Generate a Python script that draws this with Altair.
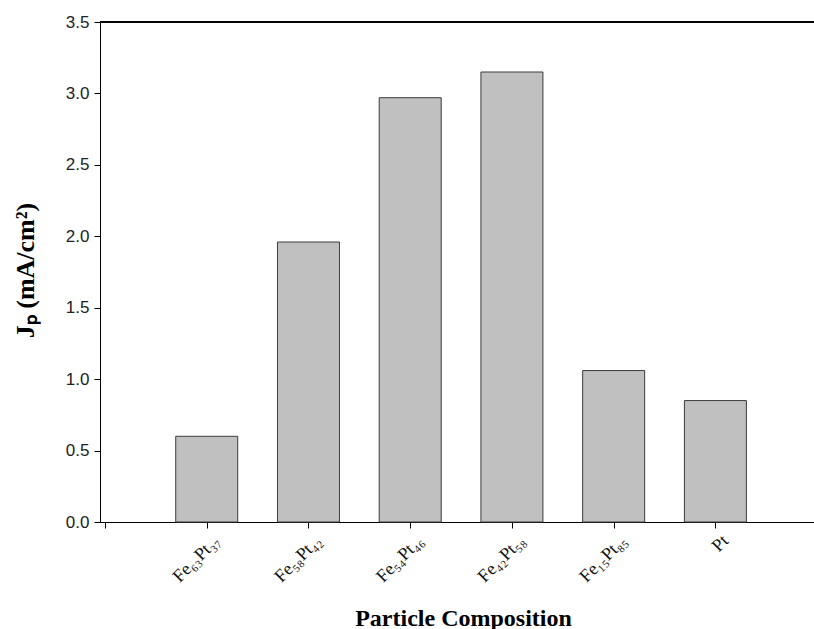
import altair as alt
import pandas as pd

# Data
categories = ["Fe₆₃Pt₃₇", "Fe₅₈Pt₄₂", "Fe₅₄Pt₄₆", "Fe₄₂Pt₅₈", "Fe₁₅Pt₈₅", "Pt"]
jp_values = [0.60, 1.96, 2.97, 3.15, 1.06, 0.85]
y_ticks = [0.0, 0.5, 1.0, 1.5, 2.0, 2.5, 3.0, 3.5]

df = pd.DataFrame({
    "composition": categories,
    "pos": list(range(1, len(categories) + 1)),
    "jp": jp_values,
})

label_list = [""] + categories
label_expr = "[" + ",".join("'" + s + "'" for s in label_list) + "][datum.value]"

W, H = 714, 500
x_scale = alt.Scale(domain=[0, 6.92], nice=False, zero=False)
y_scale = alt.Scale(domain=[0, 3.5], nice=False)

bars = alt.Chart(df).mark_bar(
    size=62, color="#c0c0c0", stroke="#3c3c3c", strokeWidth=1
).encode(
    x=alt.X("pos:Q", scale=x_scale,
            axis=alt.Axis(
                values=list(range(0, len(categories) + 1)),
                labelExpr=label_expr,
                labelAngle=-45, labelAlign="right", labelBaseline="middle",
                labelFont="Liberation Serif", labelFontSize=18, labelColor="#111",
                labelPadding=10, labelOffset=10,
                tickSize=6, tickColor="#000", domainColor="#000", grid=False,
                title="Particle Composition",
                titleFont="Liberation Serif", titleFontSize=24, titleFontWeight="bold",
                titleColor="#000", titleX=363, titleY=103, titleBaseline="alphabetic",
                titleAlign="center",
            )),
    y=alt.Y("jp:Q", scale=y_scale,
            axis=alt.Axis(
                values=y_ticks, format=".1f",
                labelFont="Liberation Sans", labelFontSize=17, labelColor="#222",
                labelPadding=5, tickSize=6, tickColor="#000", domainColor="#000",
                grid=False,
                title="Jₚ (mA/cm²)",
                titleFont="Liberation Serif", titleFontSize=26, titleFontWeight="bold",
                titleColor="#000", titleAngle=-90, titleX=-75, titleY=248,
                titleAlign="center", titleBaseline="middle",
            )),
)

top_frame = alt.Chart(df).mark_rule(color="#000", strokeWidth=1).encode(
    x=alt.value(0), x2=alt.value(W), y=alt.value(0)
)

chart = alt.layer(bars, top_frame).properties(
    width=W, height=H,
    autosize=alt.AutoSizeParams(type="none"),
    padding={"left": 100, "top": 22, "right": 0, "bottom": 107},
).configure_view(stroke=None).configure(background="white")

chart.save("out.html", embed_options={"renderer": "svg", "actions": False})
